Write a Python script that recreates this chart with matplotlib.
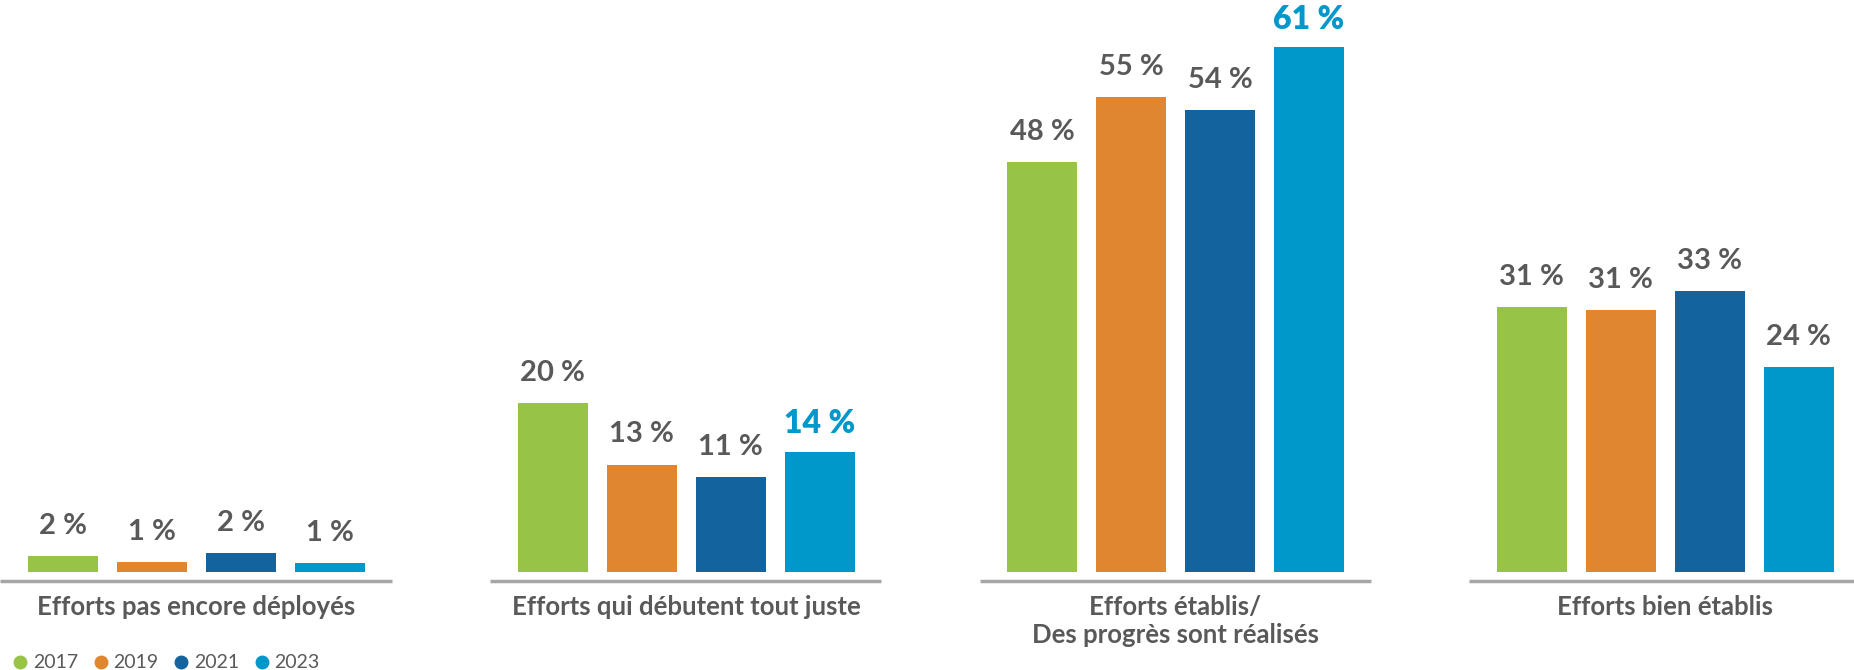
import numpy as np
import matplotlib.pyplot as plt

plt.rcParams['font.family'] = ['Lato', 'DejaVu Sans']

categories = ['Efforts pas encore déployés', 'Efforts qui débutent tout juste',
              'Efforts établis/\nDes progrès sont réalisés', 'Efforts bien établis']
years = ['2017', '2019', '2021', '2023']
v2017 = [1.9, 19.6, 47.7, 30.8]
v2019 = [1.2, 12.5, 55.2, 30.5]
v2021 = [2.2, 11.1, 53.7, 32.7]
v2023 = [1.0, 14.0, 61.0, 23.8]
labels2017 = ['2 %', '20 %', '48 %', '31 %']
labels2019 = ['1 %', '13 %', '55 %', '31 %']
labels2021 = ['2 %', '11 %', '54 %', '33 %']
labels2023 = ['1 %', '14 %', '61 %', '24 %']
highlight = [False, True, True, False]  # 2023 label in blue

colors = ['#97C347', '#E0862E', '#12639E', '#0098CB']
grey = '#595959'

values = [v2017, v2019, v2021, v2023]
labels = [labels2017, labels2019, labels2021, labels2023]

fig = plt.figure(figsize=(18.54, 6.70), dpi=100)
ax = fig.add_axes([0, 0, 1, 1])
px = 8.6  # pixels per percent
ax.set_xlim(-63 / 89, (1854 - 63) / 89)
ax.set_ylim(-98 / px, 572 / px)
ax.axis('off')

gstep = 489.5 / 89
width = 70 / 89
for g, cat in enumerate(categories):
    x0 = g * gstep
    for i in range(4):
        x = x0 + i
        h = values[i][g]
        ax.bar(x, h, width=width, color=colors[i], linewidth=0)
        if i == 3 and highlight[g]:
            ax.text(x, h + 28 / px, labels[i][g], ha='center', va='center',
                    fontsize=23, fontweight='heavy', color=colors[3])
        else:
            ax.text(x, h + 30 / px, labels[i][g], ha='center', va='center',
                    fontsize=21, fontweight='bold', color=grey)
    ax.plot([x0 - 0.5 - 18 / 89, x0 + 3.5 + 17 / 89], [-9 / px, -9 / px],
            color='#A6A6A6', lw=2.5, solid_capstyle='butt')
    ax.text(x0 + 1.5, -23 / px, cat, ha='center', va='top', fontsize=18.5,
            fontweight='bold', color=grey, linespacing=1.2)

# legend
for i, y in enumerate(years):
    ax.plot([(20 + 80.5 * i - 63) / 89], [-(662 - 572) / px], 'o',
            color=colors[i], markersize=9)
    ax.text((33 + 80.5 * i - 63) / 89, -(662 - 572) / px, y, ha='left',
            va='center', fontsize=14, color=grey)

fig.savefig('out.png', dpi=100)
